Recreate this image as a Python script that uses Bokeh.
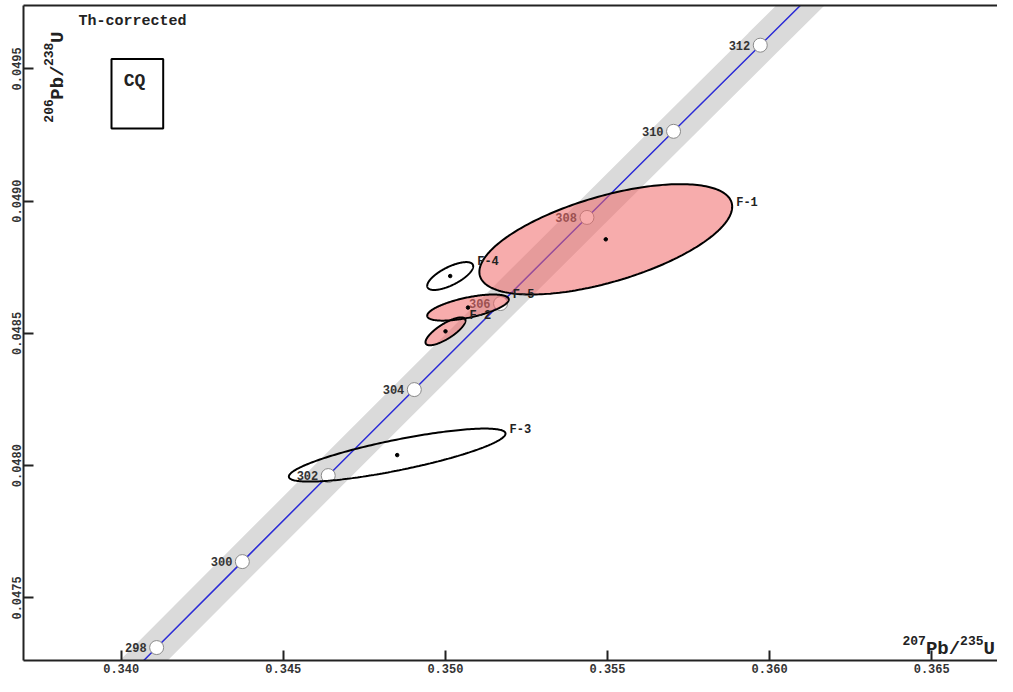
import numpy as np
from bokeh.plotting import figure
from bokeh.models import Range1d, LinearAxis, FixedTicker, PrintfTickFormatter, BoxAnnotation
from bokeh.core.properties import value
from bokeh.embed import file_html
from bokeh.resources import INLINE

# ---- Concordia (ages in Ma and their ratios) ----
conc_ages = [296, 298, 300, 302, 304, 306, 308, 310, 312, 314]
conc_x207 = [0.338454, 0.341093, 0.343737, 0.346386, 0.349041, 0.351701, 0.354366, 0.357037, 0.359712, 0.362393]
conc_y206 = [0.0469875, 0.0473124, 0.0476374, 0.0479625, 0.0482876, 0.0486129, 0.0489383, 0.0492638, 0.0495894, 0.0499151]
marked_ages = [298, 300, 302, 304, 306, 308, 310, 312]

# ---- Analyses (error ellipses) ----
spot_names = ["F-1", "F-2", "F-3", "F-4", "F-5"]
spot_x207 = [0.354947, 0.350003, 0.348513, 0.350148, 0.350697]
spot_y206 = [0.0488556, 0.0485078, 0.0480400, 0.0487168, 0.0485976]
spot_err_x = [0.003899, 0.000617, 0.003341, 0.000709, 0.001258]
spot_err_y = [0.0002086, 0.0000527, 0.0001002, 0.0000527, 0.0000494]
spot_rho = [0.59, 0.78, 0.81, 0.70, 0.62]
spot_filled = [True, True, False, False, True]

x_ticks = [0.340, 0.345, 0.350, 0.355, 0.360, 0.365]
y_ticks = [0.0475, 0.0480, 0.0485, 0.0490, 0.0495]

MONO_NAME = "Liberation Mono"
MONO = value(MONO_NAME)
INK = "#222222"


def refx(px):
    return 0.340 + (px - 120.7) / 162.1 * 0.005


def refy(py):
    return 0.0475 + (608.0 - py) / 134.7 * 0.0005


W, H = 997, 676
p = figure(width=W, height=H,
           x_range=Range1d(refx(23), refx(W)),
           y_range=Range1d(refy(671.7), refy(4.7)),
           output_backend="svg", toolbar_location=None,
           min_border_left=23, min_border_right=0, min_border_top=5, min_border_bottom=16)
p.grid.visible = False
p.outline_line_color = None
p.outline_line_alpha = 0
p.outline_line_width = 0
p.background_fill_color = "white"
p.border_fill_color = "white"

for ax in (p.xaxis[0], p.yaxis[0]):
    ax.axis_line_width = 2
    ax.axis_line_color = INK
    ax.major_tick_in = 10
    ax.major_tick_out = 0
    ax.major_tick_line_width = 2
    ax.major_tick_line_color = INK
    ax.minor_tick_line_color = None
    ax.major_label_text_font = MONO_NAME
    ax.major_label_text_font_style = "bold"
    ax.major_label_text_font_size = "12px"
    ax.major_label_text_color = "#333333"

p.xaxis[0].ticker = FixedTicker(ticks=x_ticks)
p.xaxis[0].formatter = PrintfTickFormatter(format="%.3f")
p.xaxis[0].major_label_standoff = 3
p.yaxis[0].ticker = FixedTicker(ticks=y_ticks)
p.yaxis[0].formatter = PrintfTickFormatter(format="%.4f")
p.yaxis[0].major_label_orientation = "vertical"
p.yaxis[0].major_label_standoff = 2

top = LinearAxis(ticker=FixedTicker(ticks=[]), axis_line_width=2, axis_line_color=INK,
                 major_tick_in=0, major_tick_out=0, minor_tick_line_color=None,
                 major_label_text_font_size="0px", major_label_standoff=0)
p.add_layout(top, "above")

# concordia band and curve
p.line(conc_x207, conc_y206, line_width=34, line_color="#dadada", line_cap="butt")
p.line(conc_x207, conc_y206, line_width=1.5, line_color="#2b2bd6")
mk_x = [conc_x207[conc_ages.index(a)] for a in marked_ages]
mk_y = [conc_y206[conc_ages.index(a)] for a in marked_ages]
p.scatter(mk_x, mk_y, size=14, fill_color="white", line_color="#8a8a8a", line_width=1)
p.text(mk_x, mk_y, text=[str(a) for a in marked_ages], x_offset=-10,
       text_align="right", text_baseline="middle", text_font=MONO,
       text_font_style="bold", text_font_size="12px", text_color="#333333")

# ellipses
t = np.linspace(0, 2 * np.pi, 240)
xs_all, ys_all, xs_f, ys_f = [], [], [], []
for cx, cy, a, b, r, f in zip(spot_x207, spot_y206, spot_err_x, spot_err_y, spot_rho, spot_filled):
    ex = list(cx + a * np.cos(t))
    ey = list(cy + b * (r * np.cos(t) + np.sqrt(1 - r * r) * np.sin(t)))
    xs_all.append(ex)
    ys_all.append(ey)
    if f:
        xs_f.append(ex)
        ys_f.append(ey)
p.patches(xs_f, ys_f, fill_color="#f06868", fill_alpha=0.55, line_color=None)
p.patches(xs_all, ys_all, fill_color=None, line_color="black", line_width=2)
p.scatter(spot_x207, spot_y206, size=3.5, color="black")
lab_x = [cx + a for cx, a in zip(spot_x207, spot_err_x)]
lab_y = [cy + b * r for cy, b, r in zip(spot_y206, spot_err_y, spot_rho)]
p.text(lab_x, lab_y, text=spot_names, x_offset=4, y_offset=-4,
       text_align="left", text_baseline="middle", text_font=MONO,
       text_font_style="bold", text_font_size="12px", text_color=INK)

# annotations
p.text([refx(78)], [refy(20.7)], text=["Th-corrected"], text_align="left", text_baseline="middle",
       text_font=MONO, text_font_style="bold", text_font_size="15px", text_color=INK)
p.add_layout(BoxAnnotation(left=refx(111), right=refx(162.7), top=refy(59.3), bottom=refy(130),
                           fill_color=None, line_color="black", line_alpha=1.0, line_width=2))
p.text([refx(134)], [refy(82)], text=["CQ"], text_align="center", text_baseline="middle",
       text_font=MONO, text_font_style="bold", text_font_size="18px", text_color=INK)


def piece(px, py, txt, size, angle=0.0):
    p.text([refx(px)], [refy(py)], text=[txt], angle=angle,
           text_align="left", text_baseline="alphabetic",
           text_font=MONO, text_font_style="bold", text_font_size=size, text_color=INK)


SUP, MAIN = 13, 19
cw_s, cw_m = 0.6 * SUP, 0.6 * MAIN

# y-axis title (rotated, inside the frame), reading upward
y0 = 124.0
piece(48, y0, "206", f"{SUP}px", np.pi / 2)
y0 -= 3 * cw_s
piece(57, y0, "Pb/", f"{MAIN}px", np.pi / 2)
y0 -= 3 * cw_m
piece(48, y0, "238", f"{SUP}px", np.pi / 2)
y0 -= 3 * cw_s
piece(57, y0, "U", f"{MAIN}px", np.pi / 2)

# x-axis title (bottom right, inside the frame)
x0 = 902.0
piece(x0, 651, "207", f"{SUP}px")
x0 += 3 * cw_s
piece(x0, 660, "Pb/", f"{MAIN}px")
x0 += 3 * cw_m
piece(x0, 651, "235", f"{SUP}px")
x0 += 3 * cw_s
piece(x0, 660, "U", f"{MAIN}px")

open("out.html", "w").write(file_html(p, INLINE))
